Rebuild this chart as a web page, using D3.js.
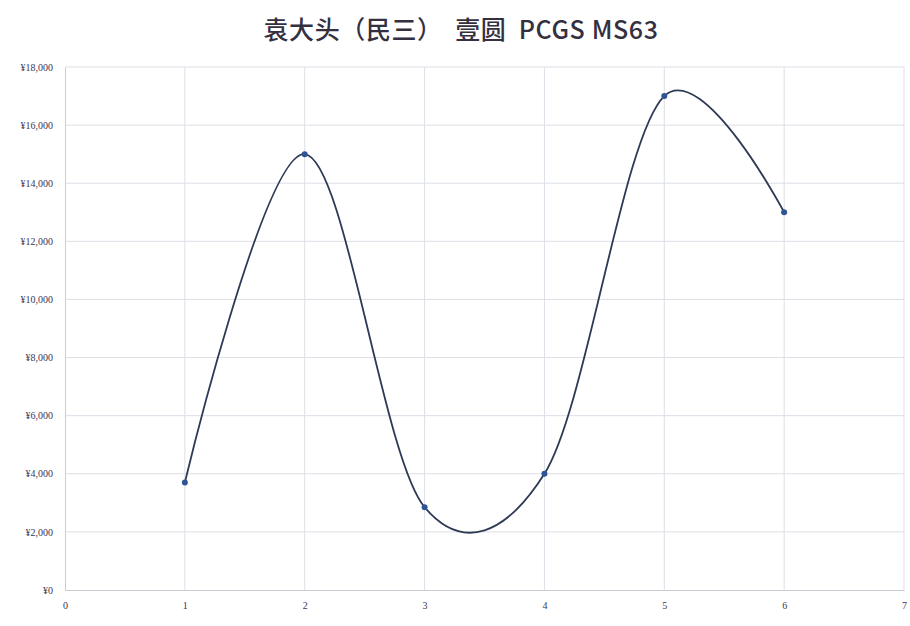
<!DOCTYPE html>
<html>
<head>
<meta charset="utf-8">
<script src="https://cdn.jsdelivr.net/npm/d3@7"></script>
<style>
  body { margin: 0; background: #fff; }
  svg { display: block; }
</style>
</head>
<body>
<svg id="chart" width="910" height="626"></svg>
<script>
const title = '袁大头（民三）  壹圆  PCGS MS63';
const xValues = [1, 2, 3, 4, 5, 6];
const prices = [3700, 15000, 2850, 4000, 17000, 13000];
const xTicks = [0, 1, 2, 3, 4, 5, 6, 7];
const yTicks = [0, 2000, 4000, 6000, 8000, 10000, 12000, 14000, 16000, 18000];

const margin = { top: 67, right: 6, bottom: 36, left: 65 };
const svgWidth = 910;
const svgHeight = 626;
const width = svgWidth - margin.left - margin.right;
const height = svgHeight - margin.top - margin.bottom;

const svg = d3.select('#chart');
const g = svg.append('g').attr('transform', `translate(${margin.left},${margin.top})`);

const x = d3.scaleLinear().domain([0, 7]).range([0, width]);
const y = d3.scaleLinear().domain([0, 18000]).range([height, 0]);

svg.append('text')
    .attr('x', 461)
    .attr('y', 39)
    .attr('text-anchor', 'middle')
    .attr('font-family', '"Noto Sans CJK SC", "Noto Sans", sans-serif')
    .attr('font-size', 25)
    .attr('font-weight', 500)
    .attr('letter-spacing', 0.6)
    .attr('fill', '#34303f')
    .style('white-space', 'pre')
    .text(title);

// grid
g.append('g')
    .selectAll('line')
    .data(yTicks.filter(d => d > 0))
    .join('line')
    .attr('x1', 0)
    .attr('x2', width)
    .attr('y1', d => y(d))
    .attr('y2', d => y(d))
    .attr('stroke', '#dcdfe6')
    .attr('stroke-width', 1);

g.append('g')
    .selectAll('line')
    .data(xTicks.filter(d => d > 0))
    .join('line')
    .attr('x1', d => x(d))
    .attr('x2', d => x(d))
    .attr('y1', 0)
    .attr('y2', height)
    .attr('stroke', '#dcdfe6')
    .attr('stroke-width', 1);

// axes
const fmt = d => '¥' + d3.format(',')(d);

const yAxis = g.append('g')
    .call(d3.axisLeft(y).tickValues(yTicks).tickFormat(fmt).tickSize(0).tickPadding(12));
yAxis.select('.domain').attr('stroke', '#c9ccd3');

const xAxis = g.append('g')
    .attr('transform', `translate(0,${height})`)
    .call(d3.axisBottom(x).tickValues(xTicks).tickFormat(d3.format('d')).tickSize(0).tickPadding(12));
xAxis.select('.domain').attr('stroke', '#c9ccd3');

g.selectAll('.tick text')
    .attr('font-family', '"Liberation Serif", "DejaVu Serif", serif')
    .attr('font-size', 10)
    .attr('fill', '#3b3550');

// line
const data = xValues.map((d, i) => ({ xData: d, yData: prices[i] }));

const line = d3.line()
    .x(d => x(d.xData))
    .y(d => y(d.yData))
    .curve(d3.curveCatmullRom.alpha(0.08));

g.append('path')
    .datum(data)
    .attr('fill', 'none')
    .attr('stroke', '#2e3a55')
    .attr('stroke-width', 1.8)
    .attr('stroke-linejoin', 'round')
    .attr('stroke-linecap', 'round')
    .attr('d', line);

g.append('g')
    .selectAll('circle')
    .data(data)
    .join('circle')
    .attr('cx', d => x(d.xData))
    .attr('cy', d => y(d.yData))
    .attr('r', 3)
    .attr('fill', '#2f5597');
</script>
</body>
</html>
